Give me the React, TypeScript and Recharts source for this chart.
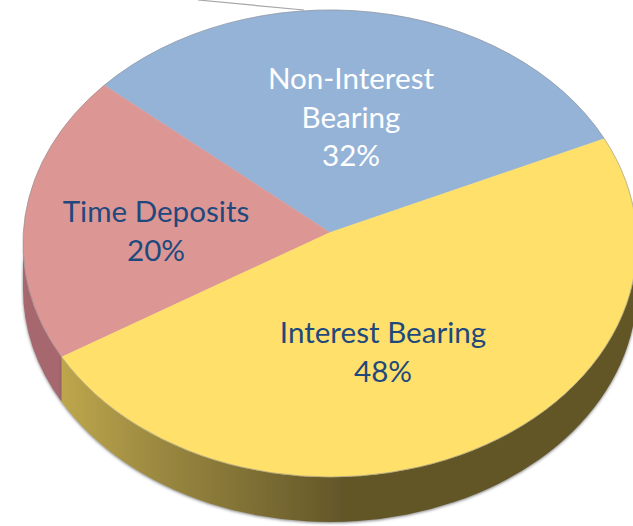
import React from 'react';
import { PieChart, Pie, Cell } from 'recharts';

// Slices, counter-clockwise from the blue/yellow boundary
const categories = ['Non-Interest Bearing', 'Time Deposits', 'Interest Bearing'];
const shares = [32, 20, 48];
const faceColors = ['#95b3d7', '#dc9795', '#ffe06b'];
const wallColors = ['#6f86a1', '#a6686e', 'url(#yellowWall)'];
const labelLines = [['Non-Interest', 'Bearing'], ['Time Deposits'], ['Interest Bearing']];

const data = categories.map((name, i) => ({ name, value: shares[i] }));

// Pie geometry: an ellipse seen in perspective, apex sits above the ellipse centre
const CX = 330;
const CY = 243.5;
const RX = 307;
const RY = 233.5;
const APEX_UP = 11;
const DEPTH = 45;
const START_ANGLE = 24.2;

// label anchors (centre x, first baseline y) and colours
const labelAnchors = [[351, 89], [156, 222], [383, 343]];
const labelColors = ['#ffffff', '#1f497d', '#1f497d'];
const LINE_HEIGHT = 38.5;

const rad = (d: number) => (d * Math.PI) / 180;
const pt = (deg: number, dy = 0) => [CX + RX * Math.cos(rad(deg)), CY - RY * Math.sin(rad(deg)) + dy];

// ellipse parameter angle where the ray from the apex at angle a hits the rim
const rimAngle = (a: number) => {
  const v0 = APEX_UP / RY;
  const s = Math.sin(rad(a));
  const c = Math.cos(rad(a));
  const t = -v0 * s + Math.sqrt(v0 * v0 * s * s - v0 * v0 + 1);
  const p = (Math.atan2(v0 + t * s, t * c) * 180) / Math.PI;
  return p + 360 * Math.round((a - p) / 360);
};

const FaceShape = (props: any) => {
  const p1 = rimAngle(props.startAngle);
  const p2 = rimAngle(props.endAngle);
  const [x1, y1] = pt(p1);
  const [x2, y2] = pt(p2);
  const large = p2 - p1 > 180 ? 1 : 0;
  const arc = `M${x1},${y1}A${RX},${RY} 0 ${large} 0 ${x2},${y2}`;
  return (
    <g>
      <path
        d={`M${CX},${CY - APEX_UP}L${x1},${y1}A${RX},${RY} 0 ${large} 0 ${x2},${y2}Z`}
        fill={props.fill}
        stroke={props.fill}
        strokeWidth={0.5}
      />
      <path d={arc} fill="none" stroke="#8c8c8c" strokeOpacity={0.55} strokeWidth={1} />
    </g>
  );
};

const WallShape = (props: any) => {
  // only the front half of the rim shows a wall
  const p1 = Math.max(rimAngle(props.startAngle), 180);
  const p2 = Math.min(rimAngle(props.endAngle), 360);
  if (p2 <= p1) return null;
  const [x1, y1] = pt(p1);
  const [x2, y2] = pt(p2);
  const [x3, y3] = pt(p2, DEPTH);
  const [x4, y4] = pt(p1, DEPTH);
  const large = p2 - p1 > 180 ? 1 : 0;
  return (
    <path
      d={`M${x1},${y1}A${RX},${RY} 0 ${large} 0 ${x2},${y2}L${x3},${y3}A${RX},${RY} 0 ${large} 1 ${x4},${y4}Z`}
      fill={props.fill}
      filter="url(#wallShadow)"
    />
  );
};

const renderLabel = (props: any) => {
  const i = props.index;
  const [x, y] = labelAnchors[i];
  const lines = [...labelLines[i], `${shares[i]}%`];
  return (
    <text x={x} y={y} textAnchor="middle" fill={labelColors[i]} fontFamily="Lato, 'Open Sans', sans-serif" fontSize={29.6}>
      {lines.map((line, k) => (
        <tspan key={k} x={x} y={y + k * LINE_HEIGHT}>
          {line}
        </tspan>
      ))}
    </text>
  );
};

const App = () => {
  return (
    <div style={{ position: 'absolute', left: 0, top: 0, width: 633, height: 526, overflow: 'hidden', background: '#fff' }}>
      <PieChart width={633} height={526} margin={{ top: 0, right: 0, bottom: 0, left: 0 }}>
        <defs>
          <linearGradient id="yellowWall" gradientUnits="userSpaceOnUse" x1={62} y1={0} x2={345} y2={0}>
            <stop offset="0%" stopColor="#bda64c" />
            <stop offset="35%" stopColor="#9a8840" />
            <stop offset="70%" stopColor="#7c6d33" />
            <stop offset="100%" stopColor="#635628" />
          </linearGradient>
          <filter id="wallShadow" x="-5%" y="-5%" width="110%" height="115%">
            <feDropShadow dx={0} dy={1} stdDeviation={1.5} floodColor="#444" floodOpacity={0.7} />
          </filter>
        </defs>
        {/* leader line running off the top of the picture */}
        <line x1={198} y1={0} x2={304} y2={10} stroke="#a6a6a6" strokeWidth={1.2} />
        <Pie
          data={data}
          dataKey="value"
          cx={CX}
          cy={CY}
          outerRadius={RX}
          startAngle={START_ANGLE}
          endAngle={START_ANGLE + 360}
          shape={WallShape}
          isAnimationActive={false}
          label={false}
          labelLine={false}
        >
          {data.map((d, i) => (
            <Cell key={d.name} fill={wallColors[i]} />
          ))}
        </Pie>
        <Pie
          data={data}
          dataKey="value"
          cx={CX}
          cy={CY}
          outerRadius={RX}
          startAngle={START_ANGLE}
          endAngle={START_ANGLE + 360}
          shape={FaceShape}
          isAnimationActive={false}
          label={renderLabel}
          labelLine={false}
        >
          {data.map((d, i) => (
            <Cell key={d.name} fill={faceColors[i]} />
          ))}
        </Pie>
      </PieChart>
    </div>
  );
};

export default App;
